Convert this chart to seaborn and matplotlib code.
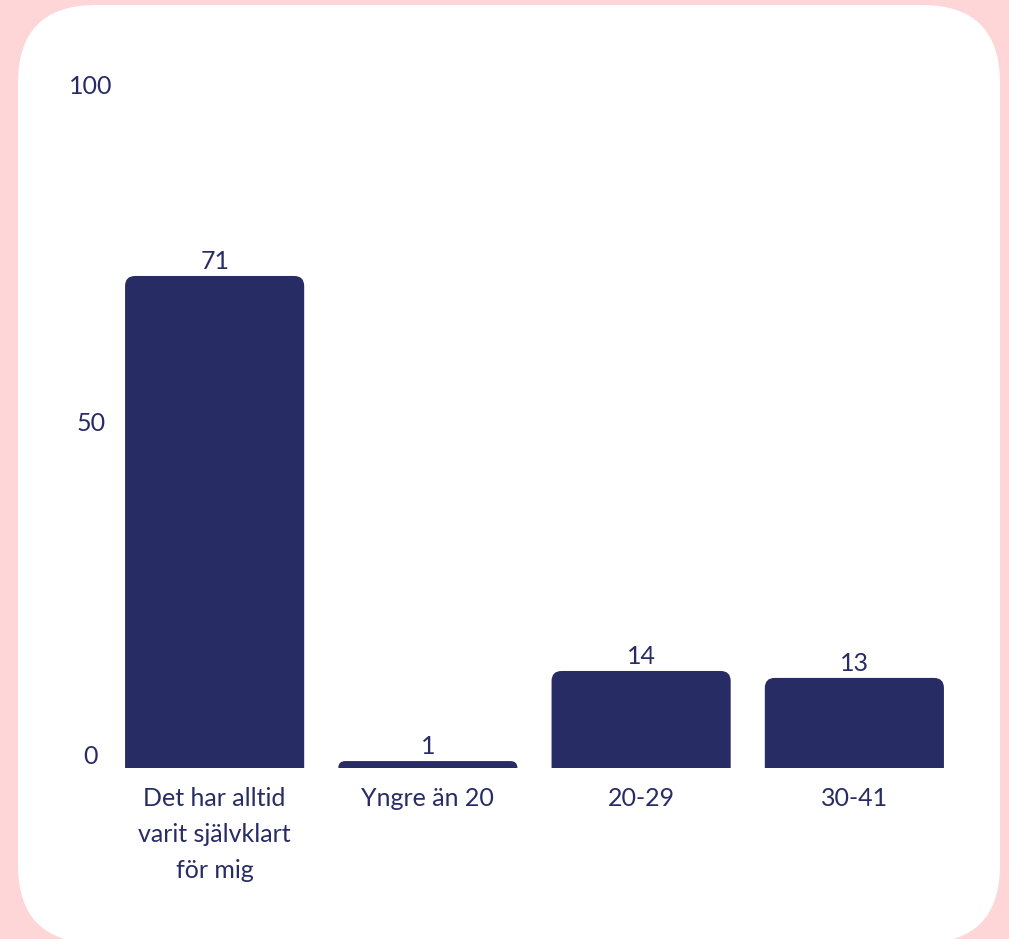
import matplotlib
matplotlib.use("Agg")
import matplotlib.pyplot as plt
from matplotlib.patches import FancyBboxPatch
from matplotlib.transforms import Affine2D
import seaborn as sns
import pandas as pd

categories = ["Det har alltid\nvarit självklart\nför mig", "Yngre än 20", "20-29", "30-41"]
values = [71, 1, 14, 13]
y_ticks = [0, 50, 100]

BG = "#FFD6D7"
NAVY = "#282C64"
W, H = 1009, 939
FS = 18

sns.set_theme(style="white")
plt.rcParams["font.family"] = ["Lato", "DejaVu Sans"]

fig = plt.figure(figsize=(W / 100, H / 100), dpi=100, facecolor=BG)

# white rounded card behind the chart (pixel coordinates, origin bottom-left)
px = Affine2D().scale(1 / W, 1 / H) + fig.transFigure
card = FancyBboxPatch((18, -4), 982, 938,
                      boxstyle="round,pad=0,rounding_size=78",
                      transform=px, facecolor="white", edgecolor="none",
                      zorder=-10)
fig.patches.append(card)

ax_l, ax_r, ax_t, ax_b = 108, 961, 75, 768
ax = fig.add_axes([ax_l / W, (H - ax_b) / H, (ax_r - ax_l) / W, (ax_b - ax_t) / H])
ax.set_facecolor("none")
ax.set_zorder(5)

df = pd.DataFrame({"cat": categories, "val": values})
sns.barplot(data=df, x="cat", y="val", color=NAVY, width=0.84, ax=ax,
            saturation=1)

ax.set_xlim(-0.5, len(categories) - 0.5)
ax.set_ylim(0, 100)

# pixels per data unit
ppx = (ax_r - ax_l) / len(categories)
ppy = (ax_b - ax_t) / 100.0

# replace square bars with ones that have rounded top corners
for patch, v in zip(list(ax.patches), values):
    x0, w, h = patch.get_x(), patch.get_width(), patch.get_height()
    patch.set_visible(False)
    r_px = min(10.0, h * ppy)
    r_x = r_px / ppx
    r_y = r_px / ppy
    rb = FancyBboxPatch((x0, -r_y), w, h + r_y,
                        boxstyle=f"round,pad=0,rounding_size={r_x}",
                        mutation_aspect=r_y / r_x,
                        facecolor=NAVY, edgecolor="none", clip_on=True)
    ax.add_patch(rb)
    ax.annotate(f"{v}", (x0 + w / 2, h), xytext=(0, 2), textcoords="offset points",
                ha="center", va="bottom", fontsize=FS, color=NAVY)

for s in ax.spines.values():
    s.set_visible(False)

ax.set_yticks(y_ticks)
ax.set_yticklabels([str(t) for t in y_ticks])
ax.tick_params(axis="both", length=0, labelsize=FS, labelcolor=NAVY)
ax.tick_params(axis="y", pad=12.5)
ax.tick_params(axis="x", pad=13.5)
ylabels = ax.get_yticklabels()
for lbl in ylabels:
    lbl.set_ha("center")
ylabels[0].set_va("bottom")
ylabels[-1].set_va("top")
ylabels[-1].set_y(98.5)
for lbl in ax.get_xticklabels():
    lbl.set_linespacing(1.68)
    lbl.set_va("top")
ax.set_xlabel("")
ax.set_ylabel("")
ax.grid(False)

fig.savefig("out.png", dpi=100, facecolor=BG)
